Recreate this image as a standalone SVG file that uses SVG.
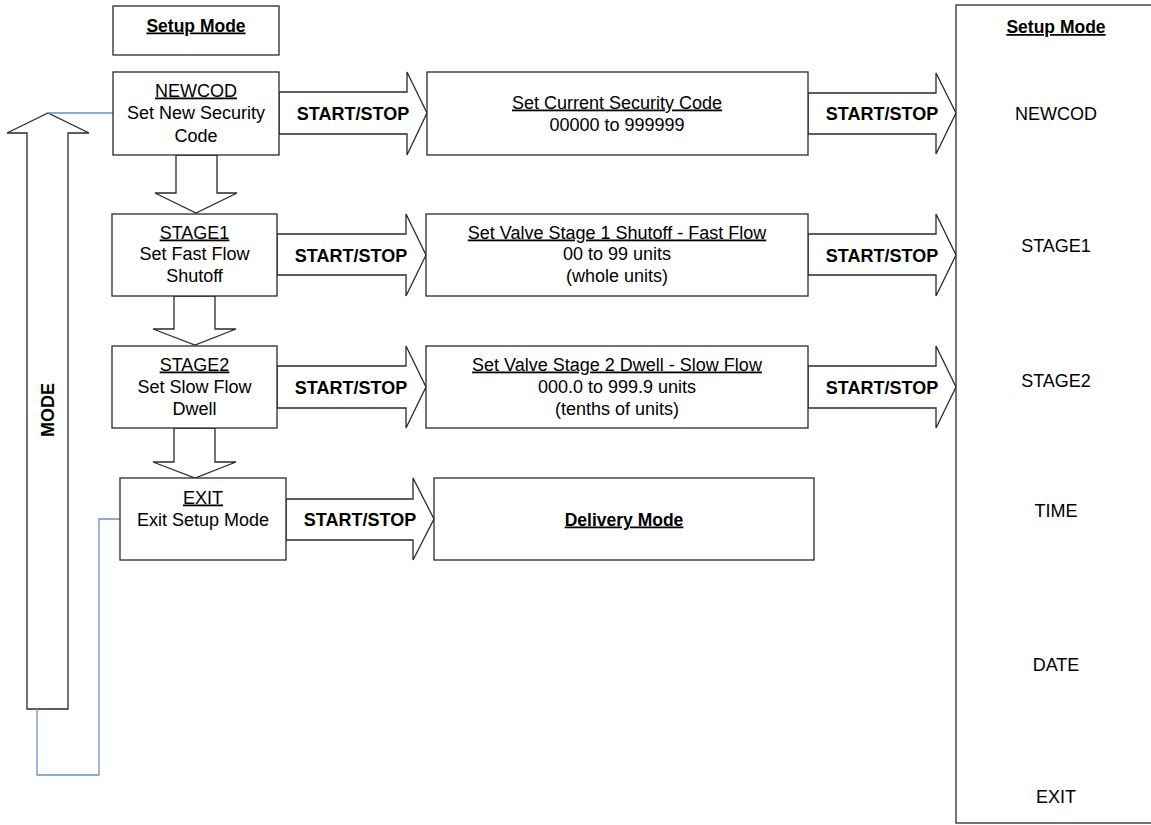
<svg xmlns="http://www.w3.org/2000/svg" width="1151" height="825" viewBox="0 0 1151 825">
<style>
.box{fill:#fff;stroke:#2a2a2a;stroke-width:1.3}
.arr{fill:#fff;stroke:#2a2a2a;stroke-width:1.3;stroke-linejoin:miter}
.blue{fill:none;stroke:#6a8fd0;stroke-width:1.3}
text{font-family:"Liberation Sans",Arial,sans-serif;font-size:18px;fill:#000;text-anchor:middle}
.b{font-weight:bold}
.h{font-weight:bold;font-size:17.5px}
.u{text-decoration:underline}
</style>
<rect width="1151" height="825" fill="#fff"/>
<g id="connectors">
<polygon class="arr" points="27,709 27,133 7,133 48,113 89,133 68,133 68,709"/>
<text class="b" transform="translate(54,410) rotate(-90)">MODE</text>
<path class="blue" d="M48,113 H113"/>
<path class="blue" d="M37,709 V775 H99 V519 H120"/>
<polygon class="arr" points="176,155 176,193 155,193 196,213 237,193 217,193 217,155"/>
<polygon class="arr" points="174,296 174,329 153,329 195,345 236,329 215,329 215,296"/>
<polygon class="arr" points="174,428 174,462 153,462 195,478 236,462 215,462 215,428"/>
<polygon class="arr" points="279,92 407,92 407,72 427,113 407,155 407,134 279,134"/>
<text class="b" x="353" y="119.5">START/STOP</text>
<polygon class="arr" points="808,93 936,93 936,73 956,113 936,154 936,134 808,134"/>
<text class="b" x="882" y="119.5">START/STOP</text>
<polygon class="arr" points="277,234 406,234 406,214 426,255 406,296 406,275 277,275"/>
<text class="b" x="351" y="261.5">START/STOP</text>
<polygon class="arr" points="808,234 936,234 936,214 956,255 936,296 936,275 808,275"/>
<text class="b" x="882" y="261.5">START/STOP</text>
<polygon class="arr" points="277,366 406,366 406,346 426,387 406,428 406,408 277,408"/>
<text class="b" x="351" y="393.5">START/STOP</text>
<polygon class="arr" points="808,366 936,366 936,346 956,387 936,428 936,408 808,408"/>
<text class="b" x="882" y="393.5">START/STOP</text>
<polygon class="arr" points="286,499 413,499 413,478 434,519 413,560 413,540 286,540"/>
<text class="b" x="360" y="525.5">START/STOP</text>
</g>
<g id="setup-mode-title">
<rect class="box" x="113" y="6" width="166" height="49"/>
<text class="h u" x="196" y="31.5">Setup Mode</text>
</g>
<g id="newcod">
<rect class="box" x="113" y="72" width="166" height="83"/>
<text class="u" x="196" y="96.5">NEWCOD</text>
<text x="196" y="119">Set New Security</text>
<text x="196" y="141.5">Code</text>
</g>
<g id="set-current-code">
<rect class="box" x="427" y="72" width="381" height="83"/>
<text class="u" x="617" y="108.5">Set Current Security Code</text>
<text x="617" y="130.5">00000 to 999999</text>
</g>
<g id="stage1">
<rect class="box" x="112" y="214" width="165" height="82"/>
<text class="u" x="194.5" y="238.5">STAGE1</text>
<text x="194.5" y="259.5">Set Fast Flow</text>
<text x="194.5" y="281.5">Shutoff</text>
</g>
<g id="stage1-set">
<rect class="box" x="426" y="214" width="382" height="82"/>
<text class="u" x="617" y="238.5">Set Valve Stage 1 Shutoff - Fast Flow</text>
<text x="617" y="259.5">00 to 99 units</text>
<text x="617" y="281.5">(whole units)</text>
</g>
<g id="stage2">
<rect class="box" x="112" y="346" width="165" height="82"/>
<text class="u" x="194.5" y="370.5">STAGE2</text>
<text x="194.5" y="392.5">Set Slow Flow</text>
<text x="194.5" y="414.5">Dwell</text>
</g>
<g id="stage2-set">
<rect class="box" x="426" y="346" width="382" height="82"/>
<text class="u" x="617" y="370.5">Set Valve Stage 2 Dwell - Slow Flow</text>
<text x="617" y="392.5">000.0 to 999.9 units</text>
<text x="617" y="414.5">(tenths of units)</text>
</g>
<g id="exit">
<rect class="box" x="120" y="478" width="166" height="82"/>
<text class="u" x="203" y="503.5">EXIT</text>
<text x="203" y="525.5">Exit Setup Mode</text>
</g>
<g id="delivery-mode">
<rect class="box" x="434" y="478" width="380" height="82"/>
<text class="h u" x="624" y="525.5">Delivery Mode</text>
</g>
<g id="setup-mode-panel">
<rect class="box" x="956" y="5" width="210" height="818"/>
<text class="h u" x="1056" y="33">Setup Mode</text>
<text x="1056" y="119.5">NEWCOD</text>
<text x="1056" y="252">STAGE1</text>
<text x="1056" y="386.5">STAGE2</text>
<text x="1056" y="516.5">TIME</text>
<text x="1056" y="670.5">DATE</text>
<text x="1056" y="802.5">EXIT</text>
</g>
</svg>
